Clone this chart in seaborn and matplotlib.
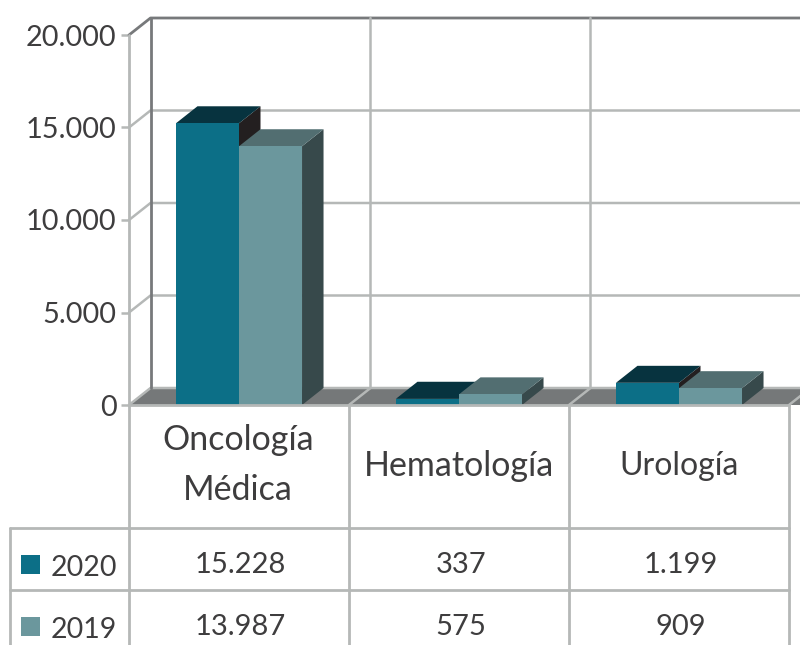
import matplotlib
matplotlib.use("Agg")
import pandas as pd
import seaborn as sns
import matplotlib.pyplot as plt
from matplotlib.lines import Line2D
from matplotlib.patches import Polygon, Rectangle

categories = ["Oncología\nMédica", "Hematología", "Urología"]
years = ["2020", "2019"]
values_2020 = [15228, 337, 1199]
values_2019 = [13987, 575, 909]
labels_2020 = ["15.228", "337", "1.199"]
labels_2019 = ["13.987", "575", "909"]
y_ticks = [0, 5000, 10000, 15000, 20000]
y_tick_labels = ["0", "5.000", "10.000", "15.000", "20.000"]

FRONT = {"2020": "#0c6f87", "2019": "#6b979d"}
TOP = {"2020": "#07333f", "2019": "#526e71"}
SIDE = {"2020": "#231f20", "2019": "#37494b"}
LIGHT = "#b5b8b7"
DARK = "#77797b"
FLOOR = "#757879"
TEXT = "#3e3d3e"
W, H = 800, 645
FONT = "Lato"

sns.set_theme(style="white")
plt.rcParams["font.family"] = [FONT, "DejaVu Sans"]

df = pd.DataFrame({
    "cat": categories * 2,
    "year": [years[0]] * 3 + [years[1]] * 3,
    "value": values_2020 + values_2019,
})

fig = plt.figure(figsize=(W / 100, H / 100), dpi=100)
# axes: 0 at y=405, 20000 at y=35, three 220 px wide categories from x=129
ax = fig.add_axes([129 / W, 1 - 405 / H, 660 / W, 370 / H])
sns.barplot(data=df, x="cat", y="value", hue="year", hue_order=years, palette=FRONT,
            saturation=1, width=0.573, gap=0, legend=False, ax=ax, zorder=5, linewidth=0)
ax.set_xlim(-0.5, 2.5)
ax.set_ylim(0, 20000)
ax.set_xlabel("")
ax.set_ylabel("")
ax.set_xticks([])
ax.set_yticks(y_ticks)
ax.set_yticklabels(y_tick_labels, fontsize=20.8, color=TEXT)
ax.tick_params(axis="y", length=6, width=1.8, color=LIGHT, pad=3, left=True)
sns.despine(ax=ax, left=True, bottom=True, top=True, right=True)

# depth of the fake 3d box, in data units
dx = 21.5 / 220
dy = 17 / 370 * 20000

# floor and back wall
ax.add_patch(Polygon([(-0.5, 0), (-0.5 + dx, dy), (3, dy), (3 - dx, 0)], closed=True,
                     fc=FLOOR, ec="none", zorder=1, clip_on=False))
for tick in y_ticks[1:-1]:
    ax.plot([-0.5, -0.5 + dx, 3], [tick, tick + dy, tick + dy], color=LIGHT, lw=1.8, zorder=1,
            clip_on=False, solid_joinstyle="miter")
ax.plot([-0.5, -0.5 + dx, 3], [0, dy, dy], color=LIGHT, lw=1.8, zorder=2, clip_on=False)
ax.plot([-0.5, -0.5 + dx, 3], [20000, 20000 + dy, 20000 + dy], color=DARK, lw=2, zorder=2, clip_on=False)
ax.plot([-0.5 + dx, -0.5 + dx], [dy, 20000 + dy], color=DARK, lw=2, zorder=2, clip_on=False)
for edge in [0.5, 1.5, 2.5]:
    ax.plot([edge, edge + dx, edge + dx], [0, dy, 20000 + dy], color=LIGHT, lw=1.8, zorder=2, clip_on=False)
ax.plot([-0.5, -0.5], [0, 20000], color=LIGHT, lw=2, zorder=3, clip_on=False)
ax.plot([-0.5, 2.5], [0, 0], color=LIGHT, lw=2, zorder=6, clip_on=False)

# top and side faces from the bars seaborn drew
bars = [p for p in ax.patches if isinstance(p, Rectangle) and p.get_height() > 0 and p.get_width() < 0.5]
for i, bar in enumerate(bars):
    year = years[i // 3]
    x0, x1, h = bar.get_x(), bar.get_x() + bar.get_width(), bar.get_height()
    z = 3.2 + i // 3 * 0.5
    ax.add_patch(Polygon([(x1, 0), (x1 + dx, dy), (x1 + dx, h + dy), (x1, h)], closed=True,
                         fc=SIDE[year], ec="none", zorder=z))
    ax.add_patch(Polygon([(x0, h), (x0 + dx, h + dy), (x1 + dx, h + dy), (x1, h)], closed=True,
                         fc=TOP[year], ec="none", zorder=z + 0.1))


def fig_line(xs, ys):
    fig.add_artist(Line2D([x / W for x in xs], [1 - y / H for y in ys], color=LIGHT, lw=2))


def fig_text(x, y, s, size=21, ha="center", **kw):
    fig.text(x / W, 1 - y / H, s, fontsize=size, ha=ha, va="center", color=TEXT, **kw)


# data table under the chart
for x in [129, 349, 569, 789]:
    fig_line([x, x], [405, 645])
fig_line([10, 10], [528, 645])
fig_line([10, 789], [528, 528])
fig_line([10, 789], [590, 590])

centers = [238, 459, 679]
fig_text(centers[0], 465, categories[0], size=24.5, linespacing=1.66)
fig_text(centers[1], 466, categories[1], size=24.5)
fig_text(centers[2], 466, categories[2], size=23)
for cx, a, b in zip(centers, labels_2020, labels_2019):
    fig_text(cx + 2, 565, a)
    fig_text(cx + 2, 627, b)
for y, year in zip([564.5, 626.5], years):
    fig.add_artist(Rectangle((21 / W, 1 - (y + 9.5) / H), 19 / W, 19 / H, transform=fig.transFigure,
                             fc=FRONT[year], ec="none"))
    fig_text(83.5, y + 3, year, size=20.5)

fig.savefig("out.png", dpi=100)
